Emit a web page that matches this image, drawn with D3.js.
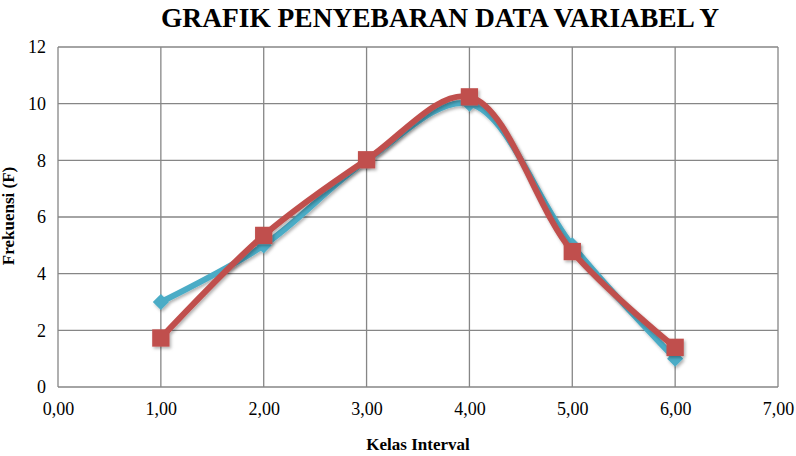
<!DOCTYPE html>
<html><head><meta charset="utf-8">
<script src="https://cdn.jsdelivr.net/npm/d3@7"></script>
<style>body{margin:0;background:#fff}svg{display:block}svg text{font-family:"Liberation Serif","Times New Roman",serif}</style>
</head><body>
<script>
const classes = [1, 2, 3, 4, 5, 6];
const observed = [3, 5, 8, 10, 5, 1];
const expected = [1.73, 5.35, 8.02, 10.24, 4.78, 1.4];
const xTicks = [0, 1, 2, 3, 4, 5, 6, 7];
const yTicks = [0, 2, 4, 6, 8, 10, 12];
const title = "GRAFIK  PENYEBARAN DATA VARIABEL Y";
const xTitle = "Kelas Interval";
const yTitle = "Frekuensi (F)";

const W = 796, H = 456;
const m = {left: 58, right: 18, top: 47, bottom: 69};
const svg = d3.select("body").append("svg").attr("width", W).attr("height", H);

const defs = svg.append("defs");
const f = defs.append("filter").attr("id", "sh").attr("x", "-20%").attr("y", "-20%").attr("width", "140%").attr("height", "140%");
f.append("feDropShadow").attr("dx", 1.5).attr("dy", 2).attr("stdDeviation", 1.5).attr("flood-color", "#000").attr("flood-opacity", 0.3);

const x = d3.scaleLinear().domain([0, 7]).range([m.left, W - m.right]);
const y = d3.scaleLinear().domain([0, 12]).range([H - m.bottom, m.top]);

const g = svg.append("g");
g.selectAll(".vg").data(xTicks).join("line")
  .attr("x1", d => x(d)).attr("x2", d => x(d)).attr("y1", y(0)).attr("y2", y(12))
  .attr("stroke", "#868686").attr("stroke-width", 1.3);
g.selectAll(".hg").data(yTicks).join("line")
  .attr("x1", x(0)).attr("x2", x(7)).attr("y1", d => y(d)).attr("y2", d => y(d))
  .attr("stroke", "#868686").attr("stroke-width", 1.3);

const xAxis = d3.axisBottom(x).tickValues(xTicks).tickSize(0).tickPadding(15)
  .tickFormat(d => d3.format(".2f")(d).replace(".", ","));
const xa = svg.append("g").attr("transform", `translate(0,${y(0)})`).call(xAxis)
  .attr("font-family", null).attr("font-size", 18);
xa.select(".domain").remove();
xa.selectAll("text").attr("fill", "#000");

const yAxis = d3.axisLeft(y).tickValues(yTicks).tickSize(0).tickPadding(12);
const ya = svg.append("g").attr("transform", `translate(${x(0)},0)`).call(yAxis)
  .attr("font-family", null).attr("font-size", 18);
ya.select(".domain").remove();
ya.selectAll("text").attr("fill", "#000");

const line = d3.line().x((d, i) => x(classes[i])).y(d => y(d)).curve(d3.curveCatmullRom.alpha(0.5));
const series = [
  {vals: observed, color: "#4bacc6", shape: d3.symbolSquare, size: 130, rot: 45},
  {vals: expected, color: "#c0504d", shape: d3.symbolSquare, size: 300, rot: 0}
];
series.forEach(s => {
  const sg = svg.append("g").attr("filter", "url(#sh)");
  sg.append("path").datum(s.vals).attr("d", line).attr("fill", "none")
    .attr("stroke", s.color).attr("stroke-width", 6).attr("stroke-linejoin", "round");
  sg.selectAll(".mk").data(s.vals).join("path")
    .attr("transform", (d, i) => `translate(${x(classes[i])},${y(d)}) rotate(${s.rot})`)
    .attr("d", d3.symbol().type(s.shape).size(s.size)).attr("fill", s.color);
});

svg.append("text").attr("x", 440).attr("y", 27).attr("text-anchor", "middle")
  .attr("font-size", 27).attr("font-weight", "bold")
  .attr("textLength", 558).attr("lengthAdjust", "spacingAndGlyphs").text(title);
svg.append("text").attr("x", 418).attr("y", 450).attr("text-anchor", "middle")
  .attr("font-size", 17).attr("font-weight", "bold").text(xTitle);
svg.append("text").attr("transform", "translate(14,216) rotate(-90)").attr("text-anchor", "middle")
  .attr("font-size", 17).attr("font-weight", "bold").text(yTitle);
</script>
</body></html>
